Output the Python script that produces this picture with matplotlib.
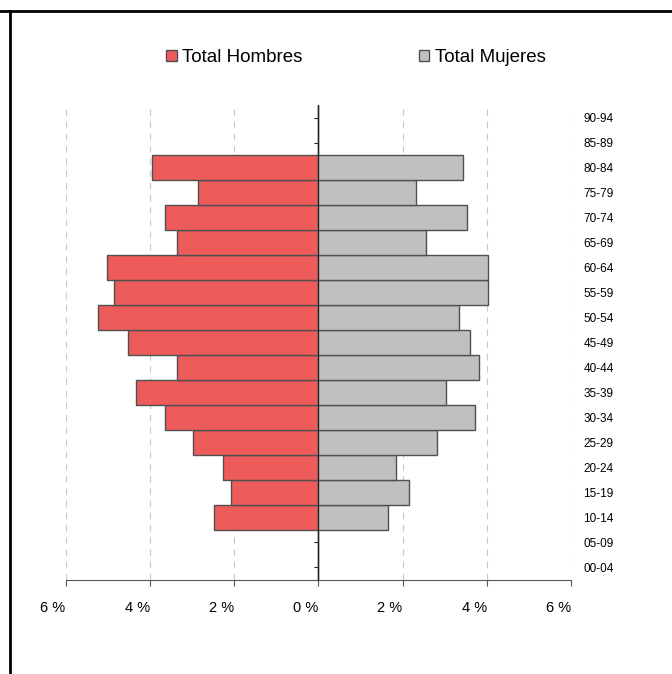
import matplotlib
matplotlib.use("Agg")
import matplotlib.pyplot as plt
from matplotlib.lines import Line2D
from matplotlib.ticker import FuncFormatter

plt.rcParams['font.family'] = ['Liberation Sans', 'DejaVu Sans']

# grupos de edad (abajo -> arriba)
grupos = ["00-04", "05-09", "10-14", "15-19", "20-24", "25-29", "30-34", "35-39",
          "40-44", "45-49", "50-54", "55-59", "60-64", "65-69", "70-74", "75-79",
          "80-84", "85-89", "90-94"]
# porcentajes
hombres = [0.0, 0.0, 2.47, 2.08, 2.26, 2.97, 3.63, 4.34, 3.35, 4.52, 5.22, 4.84,
           5.01, 3.35, 3.63, 2.86, 3.96, 0.0, 0.0]
mujeres = [0.0, 0.0, 1.66, 2.16, 1.84, 2.83, 3.71, 3.04, 3.82, 3.60, 3.33, 4.03,
           4.03, 2.55, 3.54, 2.33, 3.44, 0.0, 0.0]
xticks = [-6, -4, -2, 0, 2, 4, 6]

ROJO = "#EE5B5B"
GRIS = "#C0C0C0"
BORDE = "#505050"

fig = plt.figure(figsize=(6.72, 6.74), dpi=100)
ax = fig.add_axes([0.0976, 0.1395, 0.7521, 0.7047])

pos = list(range(len(grupos)))
ax.barh(pos, [-v for v in hombres], height=1.0, color=ROJO, edgecolor=BORDE,
        linewidth=1.0, label="Total Hombres", zorder=3)
ax.barh(pos, mujeres, height=1.0, color=GRIS, edgecolor=BORDE,
        linewidth=1.0, label="Total Mujeres", zorder=3)

ax.set_xlim(-6, 6)
ax.set_ylim(-0.5, len(grupos) - 0.5)

# rejilla vertical discontinua
for v in xticks:
    if v != 0:
        ax.axvline(v, color="#C8C8C8", lw=0.8, ls=(0, (6, 5)), zorder=1)

# eje central
for s in ["top", "right"]:
    ax.spines[s].set_visible(False)
ax.spines["left"].set_position(("data", 0))
ax.spines["left"].set_color("#222222")
ax.spines["left"].set_zorder(5)
ax.spines["bottom"].set_color("#555555")
ax.set_yticks(pos)
ax.tick_params(axis="y", direction="out", length=3, width=0.8, color="#222222",
               labelleft=False)
ax.set_xticks(xticks)
ax.xaxis.set_major_formatter(FuncFormatter(lambda v, p: f"{abs(v):.0f} %"))
ax.tick_params(axis="x", direction="out", length=4, width=0.8, color="#555555",
               labelsize=10.5, pad=11)
for lbl in ax.get_xticklabels():
    lbl.set_ha("right")

# etiquetas de edad a la derecha
ax2 = ax.twinx()
ax2.set_ylim(ax.get_ylim())
ax2.set_yticks(pos)
ax2.set_yticklabels(grupos)
ax2.tick_params(axis="y", length=0, labelsize=8.5, pad=9)
for s in ax2.spines.values():
    s.set_visible(False)

# leyenda
handles, labels = ax.get_legend_handles_labels()
fig.legend(handles, labels, loc="center", bbox_to_anchor=(0.530, 0.915), ncol=2,
           frameon=False, fontsize=13.5, handlelength=0.55, handleheight=0.55,
           handletextpad=0.3, columnspacing=6.2)

# marco parcial
fig.add_artist(Line2D([0, 1], [0.984, 0.984], transform=fig.transFigure,
                      color="black", lw=2))
fig.add_artist(Line2D([0.0149, 0.0149], [0, 0.984], transform=fig.transFigure,
                      color="black", lw=2))

fig.savefig("out.png", dpi=100)
